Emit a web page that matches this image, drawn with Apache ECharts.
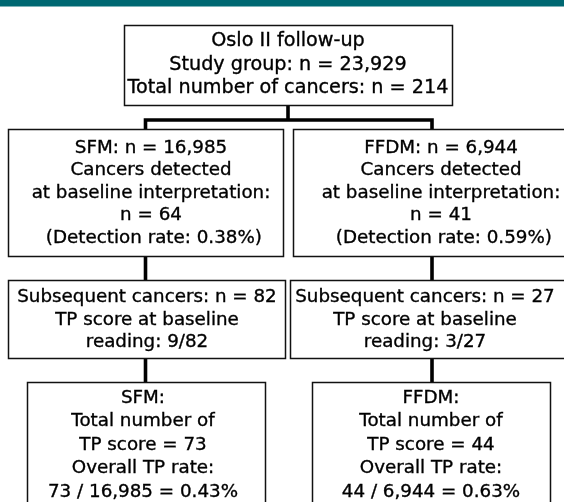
<!DOCTYPE html>
<html><head><meta charset="utf-8">
<script src="https://cdn.jsdelivr.net/npm/echarts@6/dist/echarts.min.js"></script>
<style>html,body{margin:0;padding:0;background:#fff}#c{width:564px;height:502px}</style>
</head><body><div id="c"></div>
<script>
// ---- data ----
const studyName = 'Oslo II follow-up';
const studyGroupN = 23929;
const totalCancers = 214;
const arms = ['SFM', 'FFDM'];
const armN = [16985, 6944];
const baselineDetected = [64, 41];
const detectionRate = ['0.38%', '0.59%'];
const subsequentCancers = [82, 27];
const tpAtBaseline = [9, 3];
const totalTP = [73, 44];
const overallTPRate = ['0.43%', '0.63%'];

const fmt = n => String(n).replace(/\B(?=(\d{3})+(?!\d))/g, ',');

// ---- box texts built from data ----
const texts = [
  [studyName, 'Study group: n = ' + fmt(studyGroupN), 'Total number of cancers: n = ' + fmt(totalCancers)]
];
[0, 1].forEach(i => texts.push([
  arms[i] + ': n = ' + fmt(armN[i]), 'Cancers detected', 'at baseline interpretation:',
  'n = ' + baselineDetected[i], ' (Detection rate: ' + detectionRate[i] + ')'
]));
[0, 1].forEach(i => texts.push([
  'Subsequent cancers: n = ' + subsequentCancers[i], 'TP score at baseline',
  'reading: ' + tpAtBaseline[i] + '/' + subsequentCancers[i]
]));
[0, 1].forEach(i => texts.push([
  arms[i] + ':', 'Total number of', 'TP score = ' + totalTP[i], 'Overall TP rate:',
  totalTP[i] + ' / ' + fmt(armN[i]) + ' = ' + overallTPRate[i]
]));

// ---- layout (positions in page units) ----
const layout = [
  { r: [124, 25, 452, 105], tx: 288, ty: 65, lh: 23.5, fs: 19.2 },
  { r: [8, 129, 283, 256], tx: 151, ty: 193, lh: 22.5, fs: 18.3 },
  { r: [293, 129, 590, 256], tx: 441, ty: 193, lh: 22.5, fs: 18.3 },
  { r: [8, 280, 285, 358], tx: 147, ty: 320, lh: 22.5, fs: 18.3 },
  { r: [290, 280, 570, 358], tx: 425, ty: 320, lh: 22.5, fs: 18.3 },
  { r: [27, 382, 265, 530], tx: 143, ty: 445, lh: 23.5, fs: 18.3 },
  { r: [312, 382, 550, 530], tx: 431, ty: 445, lh: 23.5, fs: 18.3 }
];
const connectors = [
  [[288, 105], [288, 120]],
  [[145.5, 129], [145.5, 120], [432, 120], [432, 129]],
  [[145.5, 256], [145.5, 280]],
  [[432, 256], [432, 280]],
  [[145.5, 358], [145.5, 382]],
  [[432, 358], [432, 382]]
];

const chart = echarts.init(document.getElementById('c'), null, { renderer: 'canvas' });
chart.setOption({
  animation: false,
  backgroundColor: '#fff',
  grid: { left: 0, right: 0, top: 0, bottom: 0 },
  xAxis: { type: 'value', min: 0, max: 564, show: false },
  yAxis: { type: 'value', min: 0, max: 502, inverse: true, show: false },
  series: [
    {
      type: 'custom', clip: false, silent: true,
      data: [0],
      renderItem: (params, api) => {
        const p0 = api.coord([0, 0]), p1 = api.coord([564, 6.5]);
        return { type: 'rect', shape: { x: p0[0], y: p0[1], width: p1[0] - p0[0], height: p1[1] - p0[1] },
          style: { fill: '#006872' } };
      }
    },
    {
      type: 'custom', clip: false, silent: true,
      data: connectors.map((c, i) => i),
      renderItem: (params, api) => {
        const pts = connectors[params.dataIndex].map(p => api.coord(p));
        return { type: 'polyline', shape: { points: pts },
          style: { stroke: '#000', lineWidth: 3.6, fill: null, lineJoin: 'miter', lineCap: 'butt' } };
      }
    },
    {
      type: 'custom', clip: false, silent: true,
      data: texts.map((t, i) => i),
      renderItem: (params, api) => {
        const L = layout[params.dataIndex];
        const a = api.coord([L.r[0], L.r[1]]), b = api.coord([L.r[2], L.r[3]]);
        const c = api.coord([L.tx, L.ty]);
        return {
          type: 'group',
          children: [
            { type: 'rect', shape: { x: Math.round(a[0]) + 0.5, y: Math.round(a[1]) + 0.5,
                width: Math.round(b[0] - a[0]), height: Math.round(b[1] - a[1]) },
              style: { fill: '#fff', stroke: '#111', lineWidth: 1.5 } },
            { type: 'text', style: { text: texts[params.dataIndex].join('\n'), x: c[0], y: c[1],
                align: 'center', verticalAlign: 'middle', fontSize: L.fs,
                fontFamily: '"DejaVu Sans", sans-serif', lineHeight: L.lh, fill: '#000',
                stroke: '#000', lineWidth: 0.35 } }
          ]
        };
      }
    }
  ]
});
</script></body></html>
